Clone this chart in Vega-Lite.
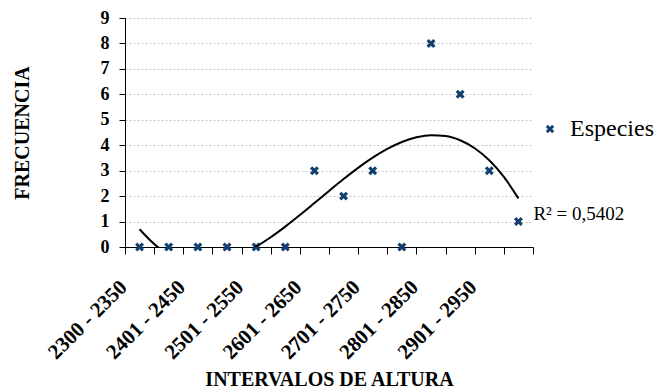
{
  "$schema": "https://vega.github.io/schema/vega-lite/v6.json",
  "width": 408,
  "height": 229,
  "autosize": {"type": "none"},
  "padding": {"left": 125, "top": 18, "right": 129, "bottom": 145},
  "background": "white",
  "config": {
    "view": {"stroke": null},
    "axis": {"labelFont": "Liberation Serif, Times New Roman, serif", "titleFont": "Liberation Serif, Times New Roman, serif"},
    "legend": {"labelFont": "Liberation Serif, Times New Roman, serif"},
    "style": {"guide-label": {"font": "Liberation Serif, Times New Roman, serif"}, "guide-title": {"font": "Liberation Serif, Times New Roman, serif"}}
  },
  "datasets": {
    "pts": [
      {"cat": "2300 - 2350", "freq": 0, "serie": "Especies"},
      {"cat": "2351 - 2400", "freq": 0, "serie": "Especies"},
      {"cat": "2401 - 2450", "freq": 0, "serie": "Especies"},
      {"cat": "2451 - 2500", "freq": 0, "serie": "Especies"},
      {"cat": "2501 - 2550", "freq": 0, "serie": "Especies"},
      {"cat": "2551 - 2600", "freq": 0, "serie": "Especies"},
      {"cat": "2601 - 2650", "freq": 3, "serie": "Especies"},
      {"cat": "2651 - 2700", "freq": 2, "serie": "Especies"},
      {"cat": "2701 - 2750", "freq": 3, "serie": "Especies"},
      {"cat": "2751 - 2800", "freq": 0, "serie": "Especies"},
      {"cat": "2801 - 2850", "freq": 8, "serie": "Especies"},
      {"cat": "2851 - 2900", "freq": 6, "serie": "Especies"},
      {"cat": "2901 - 2950", "freq": 3, "serie": "Especies"},
      {"cat": "2951 - 3000", "freq": 1, "serie": "Especies"}
    ],
    "trend": [
      {"xi": 1.0, "fit": 0.697},
      {"xi": 1.5, "fit": 0.118},
      {"xi": 2.0, "fit": -0.290},
      {"xi": 2.5, "fit": -0.541},
      {"xi": 3.0, "fit": -0.652},
      {"xi": 3.5, "fit": -0.636},
      {"xi": 4.0, "fit": -0.509},
      {"xi": 4.5, "fit": -0.287},
      {"xi": 5.0, "fit": 0.015},
      {"xi": 5.5, "fit": 0.383},
      {"xi": 6.0, "fit": 0.801},
      {"xi": 6.5, "fit": 1.254},
      {"xi": 7.0, "fit": 1.726},
      {"xi": 7.5, "fit": 2.203},
      {"xi": 8.0, "fit": 2.670},
      {"xi": 8.5, "fit": 3.110},
      {"xi": 9.0, "fit": 3.510},
      {"xi": 9.5, "fit": 3.853},
      {"xi": 10.0, "fit": 4.125},
      {"xi": 10.5, "fit": 4.310},
      {"xi": 11.0, "fit": 4.394},
      {"xi": 11.5, "fit": 4.361},
      {"xi": 12.0, "fit": 4.196},
      {"xi": 12.5, "fit": 3.883},
      {"xi": 13.0, "fit": 3.408},
      {"xi": 13.5, "fit": 2.755},
      {"xi": 14.0, "fit": 1.910}
    ],
    "r2": [
      {"xi": 14, "yv": 1.06, "label": "R² = 0,5402"}
    ]
  },
  "layer": [
    {
      "data": {"name": "pts"},
      "mark": {"type": "point", "filled": true, "size": 80, "opacity": 1,
               "shape": "M-1,-0.5L-0.5,-1L0,-0.5L0.5,-1L1,-0.5L0.5,0L1,0.5L0.5,1L0,0.5L-0.5,1L-1,0.5L-0.5,0Z"},
      "encoding": {
        "x": {
          "field": "cat", "type": "nominal", "sort": null,
          "scale": {"paddingInner": 0, "paddingOuter": 0},
          "axis": {
            "title": "INTERVALOS DE ALTURA", "titleFont": "Liberation Serif, Times New Roman, serif", "titleFontSize": 20, "titleFontWeight": "bold", "titleColor": "black",
            "titleX": 204, "titleY": 138, "titleAnchor": "middle", "titleAlign": "center", "titleBaseline": "alphabetic",
            "labelAngle": -45, "labelFont": "Liberation Serif, Times New Roman, serif", "labelFontSize": 21, "labelFontWeight": "bold", "labelColor": "black",
            "labelOverlap": false, "labelPadding": 22, "labelOffset": -24, "labelBound": false, "labelFlush": false,
            "labelExpr": "substring(datum.value, 2, 4) == '51' ? '' : datum.value",
            "tickBand": "extent", "ticks": true, "tickSize": 7, "tickColor": "black", "domainColor": "black", "domainWidth": 1, "tickWidth": 1,
            "grid": false
          }
        },
        "y": {
          "field": "freq", "type": "quantitative",
          "scale": {"domain": [0, 9], "nice": false},
          "axis": {
            "title": "FRECUENCIA", "titleFont": "Liberation Serif, Times New Roman, serif", "titleFontSize": 20, "titleFontWeight": "bold", "titleColor": "black",
            "titleX": -103, "titleY": 114.5, "titleAngle": -90, "titleAlign": "center", "titleBaseline": "middle",
            "values": [0, 1, 2, 3, 4, 5, 6, 7, 8, 9], "labelOverlap": false,
            "labelFont": "Liberation Serif, Times New Roman, serif", "labelFontSize": 18, "labelFontWeight": "bold", "labelColor": "black", "labelPadding": 10,
            "tickSize": 6, "tickColor": "black", "domainColor": "black",
            "grid": true, "gridColor": "#c4c4c4", "gridDash": [2, 2], "gridWidth": 1
          }
        },
        "color": {
          "field": "serie", "type": "nominal",
          "scale": {"range": ["#123f6e"]},
          "legend": {
            "title": null, "orient": "none", "legendX": 413, "legendY": 99, "padding": 0,
            "symbolType": "M-1,-0.5L-0.5,-1L0,-0.5L0.5,-1L1,-0.5L0.5,0L1,0.5L0.5,1L0,0.5L-0.5,1L-1,0.5L-0.5,0Z",
            "symbolSize": 70, "symbolStrokeWidth": 0, "labelOffset": 8,
            "labelFont": "Liberation Serif, Times New Roman, serif", "labelFontSize": 24, "labelColor": "black", "labelLimit": 200
          }
        }
      }
    },
    {
      "data": {"name": "trend"},
      "mark": {"type": "line", "color": "black", "strokeWidth": 2, "clip": true, "interpolate": "monotone"},
      "encoding": {
        "x": {"field": "xi", "type": "quantitative", "scale": {"domain": [0.5, 14.5], "nice": false, "zero": false}, "axis": null},
        "y": {"field": "fit", "type": "quantitative", "scale": {"domain": [0, 9], "nice": false}, "axis": null}
      }
    },
    {
      "data": {"name": "r2"},
      "mark": {"type": "text", "align": "left", "baseline": "alphabetic", "dx": 15, "font": "Liberation Serif, Times New Roman, serif", "fontSize": 19, "color": "black", "clip": false},
      "encoding": {
        "x": {"field": "xi", "type": "quantitative", "scale": {"domain": [0.5, 14.5], "nice": false, "zero": false}, "axis": null},
        "y": {"field": "yv", "type": "quantitative", "scale": {"domain": [0, 9], "nice": false}, "axis": null},
        "text": {"field": "label"}
      }
    }
  ],
  "resolve": {"scale": {"x": "independent", "y": "independent"}}
}
